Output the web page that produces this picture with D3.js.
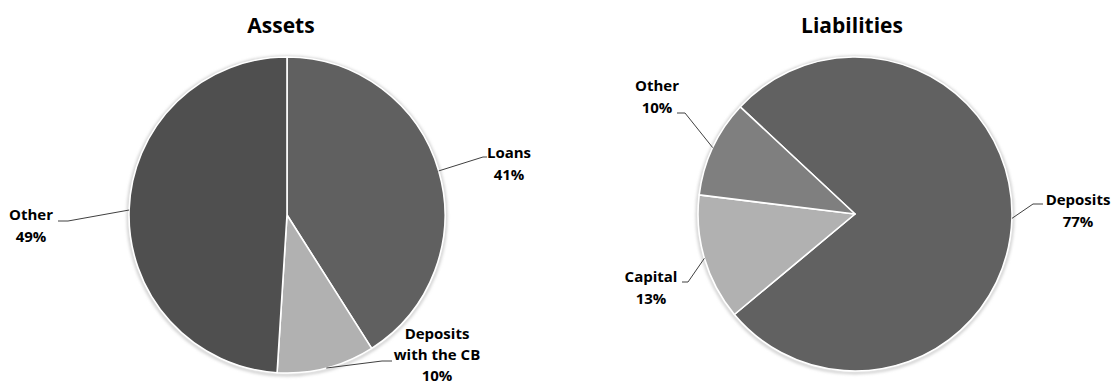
<!DOCTYPE html>
<html>
<head>
<meta charset='utf-8' />
<title>Assets and Liabilities</title>
<script src="https://d3js.org/d3.v7.min.js"></script>
<style>
body { margin: 0; padding: 0; background: #fff; }
#chart { width: 1115px; height: 385px; }
text { font-family: "Open Sans", sans-serif; font-weight: bold; fill: #000; }
</style>
</head>
<body>
<div id='chart'></div>
<script>

// data
var assetsNames = ["Loans", "Deposits with the CB", "Other"]
var assetsLines = [["Loans"], ["Deposits", "with the CB"], ["Other"]]
var assetsValues = [41, 10, 49]

var liabNames = ["Deposits", "Capital", "Other"]
var liabLines = [["Deposits"], ["Capital"], ["Other"]]
var liabValues = [77, 13, 10]

// layout
var width = 1115, height = 385

var pies = [
  { title: "Assets", tx: 281, names: assetsNames, lines: assetsLines, values: assetsValues,
    cx: 287, cy: 215, r: 158, start: 0,
    colors: ["#606060", "#b1b1b1", "#4f4f4f"],
    labels: [
      { x: 509, y: 158, lh: 22, ly: 157, elbow: 483, end: 487 },
      { x: 437, y: 339, lh: 21, ly: 361, elbow: 382, end: 392 },
      { x: 31, y: 220, lh: 22, ly: 221, elbow: 68, end: 58 }
    ] },
  { title: "Liabilities", tx: 852, names: liabNames, lines: liabLines, values: liabValues,
    cx: 855, cy: 214, r: 157, start: -47 * Math.PI / 180,
    colors: ["#616161", "#b1b1b1", "#7f7f7f"],
    labels: [
      { x: 1078, y: 205, lh: 22, ly: 204, elbow: 1033, end: 1043 },
      { x: 651, y: 282, lh: 22, ly: 282, elbow: 688, end: 682 },
      { x: 657, y: 91, lh: 22, ly: 113, elbow: 685, end: 677 }
    ] }
]

var svg = d3.select("#chart")
  .append("svg")
    .attr("width", width)
    .attr("height", height)

var defs = svg.append("defs")
defs.append("filter")
    .attr("id", "shadow")
    .attr("x", "-10%").attr("y", "-10%")
    .attr("width", "120%").attr("height", "120%")
  .append("feGaussianBlur")
    .attr("stdDeviation", 1.5)

pies.forEach(function(p) {

  svg.append("text")
      .attr("x", p.tx)
      .attr("y", 33)
      .attr("text-anchor", "middle")
      .style("font-size", "21px")
      .text(p.title)

  var pie = d3.pie()
    .sort(null)
    .startAngle(p.start)
    .endAngle(p.start + 2 * Math.PI)

  var arcs = pie(p.values)

  var arc = d3.arc()
    .innerRadius(0)
    .outerRadius(p.r)

  var g = svg.append("g")
    .attr("transform", "translate(" + p.cx + "," + p.cy + ")")

  // soft edge round the pie
  g.append("circle")
      .attr("r", p.r + 1)
      .attr("cy", 1)
      .style("fill", "none")
      .style("stroke", "#c8c8c8")
      .style("stroke-width", 2.5)
      .attr("filter", "url(#shadow)")

  g.selectAll("path.slice")
    .data(arcs)
    .enter()
    .append("path")
      .attr("class", "slice")
      .attr("d", arc)
      .style("fill", function(d, i) { return p.colors[i] })
      .style("stroke", "#fff")
      .style("stroke-width", 1.6)
      .style("stroke-linejoin", "round")

  // leader lines and labels
  arcs.forEach(function(d, i) {
    var lab = p.labels[i]
    var a = (d.startAngle + d.endAngle) / 2
    var ex = p.cx + p.r * Math.sin(a)
    var ey = p.cy - p.r * Math.cos(a)
    svg.append("path")
        .attr("d", d3.line()([[ex, ey], [lab.elbow, lab.ly], [lab.end, lab.ly]]))
        .style("fill", "none")
        .style("stroke", "#404040")
        .style("stroke-width", 1)

    var t = svg.append("text")
        .attr("text-anchor", "middle")
        .style("font-size", "15px")
    var lines = p.lines[i].concat([p.values[i] + "%"])
    lines.forEach(function(s, j) {
      t.append("tspan")
          .attr("x", lab.x)
          .attr("y", lab.y + j * lab.lh)
          .text(s)
    })
  })
})

</script>
</body>
</html>
